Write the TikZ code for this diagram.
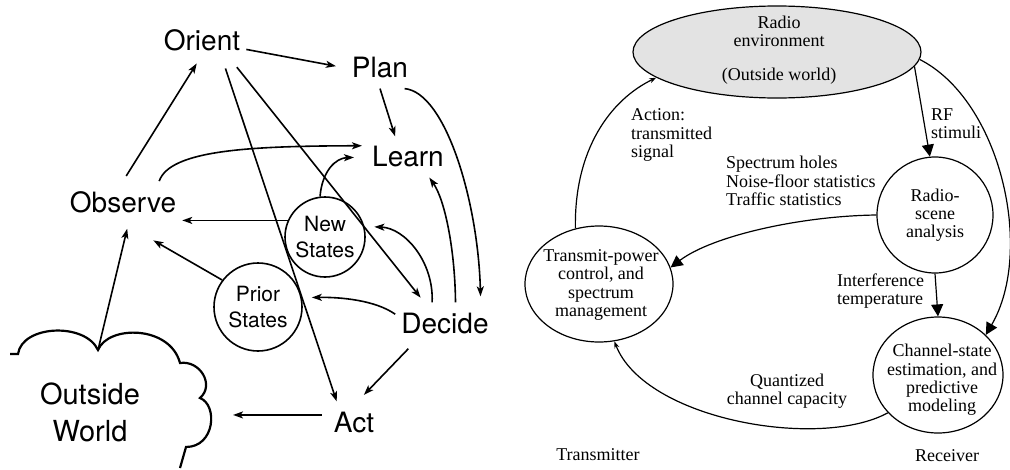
\documentclass[tikz,border=0pt]{standalone}
\usepackage{fontspec}
\setmainfont{Liberation Serif}
\newfontfamily\helv{TeX Gyre Heros}
\usetikzlibrary{arrows.meta,shapes.geometric}

\begin{document}
\begin{tikzpicture}[x=1pt,y=-1pt,
		word/.style={font=\helv\fontsize{28}{30}\selectfont,inner xsep=6pt,inner ysep=10pt},
		state/.style={circle,draw,line width=1.6pt,minimum size=#1,inner sep=0pt,align=center,font=\helv\fontsize{21}{26}\selectfont},
		flow/.style={line width=1.6pt,-{Stealth[length=10pt,width=7pt,inset=2.5pt]}},
		proc/.style={ellipse,draw,line width=1.2pt,inner sep=0pt},
		txt/.style={align=center,inner sep=0pt,font=\fontsize{18}{18.3}\selectfont},
		big/.style={line width=1.2pt,-{Triangle[length=12pt,width=12pt]}},
		feed/.style={line width=1.2pt,-{Stealth[length=7pt,width=5pt]}}]
	\useasboundingbox (0,0) rectangle (1010,469);

	\node[word] (orient) at (202,40) {Orient};
	\node[word] (plan) at (380,68) {Plan};
	\node[word] (learn) at (408,157) {Learn};
	\node[word] (observe) at (123,202) {Observe};
	\node[word] (decide) at (445,323) {Decide};
	\node[word] (act) at (354,422) {Act};
	\node[state=80pt] (newst) at (325,237) {New\\States};
	\node[state=88pt] (priorst) at (258,307) {Prior\\States};
	\node[align=center,inner sep=0pt,font=\helv\fontsize{29}{37}\selectfont] (world) at (90,412) {Outside\\World};
	\coordinate (cloudtop) at (98,350);
	\coordinate (cloudeast) at (233,413);

	\draw[line width=2.2pt] (10,354) -- (18,354) .. controls (22,325) and (85,322) .. (cloudtop)
		.. controls (108,325) and (170,325) .. (180,363)
		.. controls (200,360) and (215,385) .. (200,398)
		.. controls (218,405) and (215,447) .. (186,447) -- (180,468);

	\draw[flow,shorten >=10pt] (orient.-12) -- (plan.west);
	\draw[flow,shorten <=6pt,shorten >=3pt] (observe.north) -- (orient.-100);
	\draw[flow,shorten <=8pt] (orient.-45) -- (act.130);
	\draw[flow,shorten <=8pt,shorten >=6pt] (orient.-35) -- (decide.135);
	\draw[flow] (plan.south) -- (learn.122);
	\draw[flow,shorten >=6pt] (plan.-40) .. controls (445,92) and (478,200) .. (decide.30);
	\draw[flow,shorten >=4pt] (observe.30) .. controls (170,150) and (250,146) .. (learn.165);
	\draw[flow,shorten >=12pt] (newst.97) .. controls (322,172) and (335,158) .. (learn.west);
	\draw[flow] (newst.156) -- (newst.156 -| observe.east);
	\draw[flow,shorten >=35pt] (priorst.143) -- (observe.south);
	\draw[flow,shorten >=10pt] (decide.122) .. controls (434,262) and (405,228) .. (newst.15);
	\draw[flow] (decide.63) .. controls (455,250) and (445,200) .. (learn.-44);
	\draw[flow,shorten >=10pt] (decide.170) .. controls (375,300) and (340,297) .. (priorst.12);
	\draw[flow,shorten <=7pt,shorten >=9pt] (decide.-147) -- (act.80);
	\draw[flow,shorten <=6pt] (act.165) -- (act.165 -| cloudeast);
	\draw[flow,shorten >=6pt] (cloudtop) -- (observe.-75);

	\node[proc,fill=gray!22,minimum width=288pt,minimum height=92pt] (env) at (777,52) {};
	\node[txt] (envtext) at (779,50) {Radio\\environment\\[16pt](Outside world)};
	\node[proc,circle,minimum size=116pt,txt,draw] (scene) at (935,215) {Radio-\\scene\\analysis};
	\node[proc,minimum width=130pt,minimum height=116pt] (chan) at (938,375) {};
	\node[txt] (chantext) at (942,380) {Channel-state\\estimation, and\\predictive\\modeling};
	\node[proc,minimum width=148pt,minimum height=116pt] (tx) at (599,284) {};
	\node[txt] (txtext) at (601,285) {Transmit-power\\control, and\\spectrum\\management};

	\node[txt,align=left,anchor=west] (action) at (631,135) {Action:\\transmitted\\signal};
	\node[txt,align=left,anchor=west] (rf) at (931,124) {RF\\stimuli};
	\node[txt,align=left,anchor=west] (holes) at (726,181) {Spectrum holes\\Noise-floor statistics\\Traffic statistics};
	\node[txt,align=left,anchor=west] (interf) at (837,291) {Interference\\temperature};
	\node[txt] (quant) at (787,391) {Quantized\\channel capacity};
	\node[txt] (transmitter) at (598,455) {Transmitter};
	\node[txt] (receiver) at (947,456) {Receiver};

	\draw[feed] (tx.113) .. controls (574,150) and (610,100) .. (env.192);
	\draw[big] (env.-6) -- (scene.95);
	\draw[big] (env.-3) .. controls (1000,100) and (1035,250) .. (chan.40);
	\draw[big] (scene.west) .. controls (800,216) and (712,236) .. (tx.13);
	\draw[big] (scene.south) -- (chan.north);
	\draw[feed] (chan.217) .. controls (820,450) and (645,420) .. (tx.-75);
\end{tikzpicture}
\end{document}
